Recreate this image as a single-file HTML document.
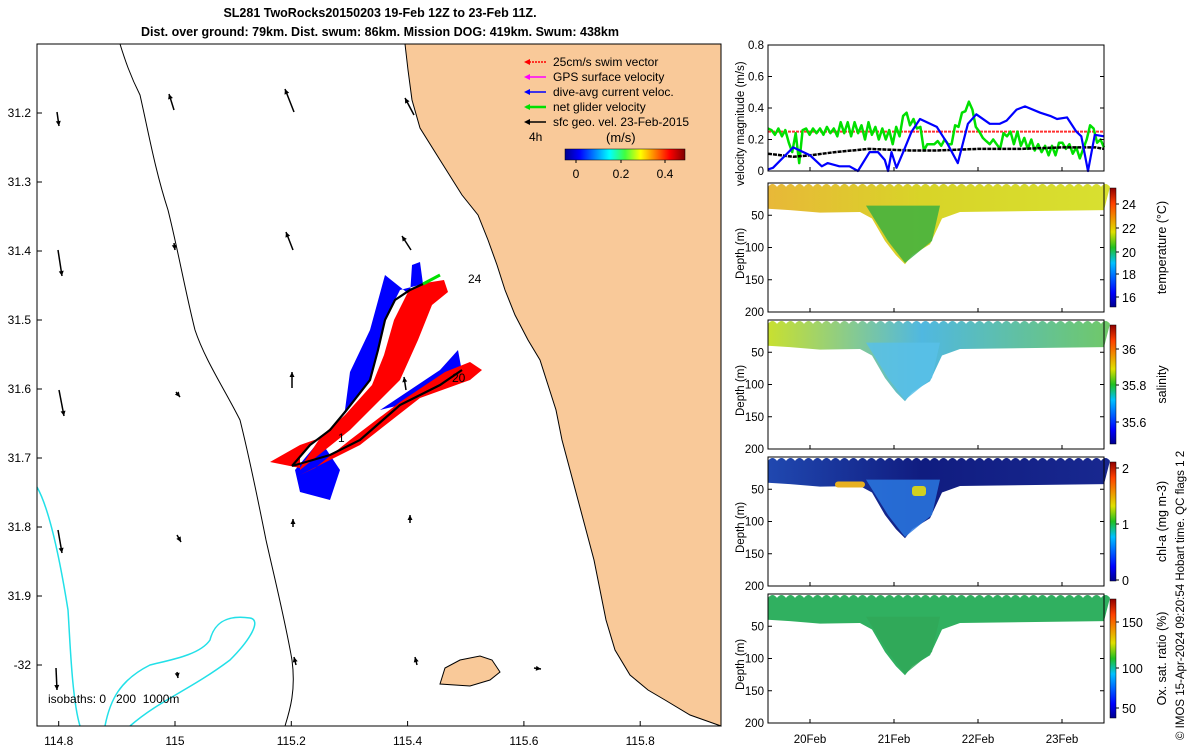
<!DOCTYPE html>
<html><head><meta charset="utf-8"><style>
body{margin:0;background:#fff;}
svg{display:block;font-family:"Liberation Sans","DejaVu Sans",sans-serif;}
</style></head><body>
<svg id="s" width="1200" height="750" viewBox="0 0 1200 750">
<defs>
<linearGradient id="jetH" x1="0" x2="1" y1="0" y2="0">
<stop offset="0" stop-color="#00008f"/><stop offset="0.12" stop-color="#0000ff"/><stop offset="0.37" stop-color="#00ffff"/><stop offset="0.5" stop-color="#40ff40"/><stop offset="0.63" stop-color="#ffff00"/><stop offset="0.87" stop-color="#ff0000"/><stop offset="1" stop-color="#800000"/></linearGradient>
<linearGradient id="jetV" x1="0" x2="0" y1="1" y2="0">
<stop offset="0" stop-color="#00008f"/><stop offset="0.12" stop-color="#0000ff"/><stop offset="0.37" stop-color="#00c0ff"/><stop offset="0.5" stop-color="#20c020"/><stop offset="0.63" stop-color="#e0e000"/><stop offset="0.87" stop-color="#ff4000"/><stop offset="1" stop-color="#900000"/></linearGradient>
</defs>
<text x="380" y="17" text-anchor="middle" font-size="12.5" font-weight="bold">SL281 TwoRocks20150203 19-Feb 12Z to 23-Feb 11Z.</text>
<text x="380" y="36" text-anchor="middle" font-size="12.5" font-weight="bold">Dist. over ground: 79km. Dist. swum: 86km. Mission DOG: 419km. Swum: 438km</text>
<g id="map"></g>
<g id="right"></g>
<text transform="translate(1184,740) rotate(-90)" font-size="11.5">© IMOS 15-Apr-2024 09:20:54 Hobart time. QC flags 1  2</text>
</svg>
<script>
// ---------- data ----------
const mapXTicks=[114.8,115,115.2,115.4,115.6,115.8];
const mapYTicks=[31.2,31.3,31.4,31.5,31.6,31.7,31.8,31.9,32];
const velTicks=[0,0.2,0.4,0.6,0.8];
const dayLabels=["20Feb","21Feb","22Feb","23Feb"];
const dayPos=[0.5,1.5,2.5,3.5]; // days since 19-Feb 12Z
const blueT=[0,0.06,0.30,0.50,0.64,0.71,0.85,0.97,1.07,1.21,1.31,1.39,1.43,1.47,1.53,1.61,1.71,1.81,1.93,2.01,2.13,2.26,2.38,2.48,2.64,2.76,2.84,2.96,3.06,3.24,3.36,3.44,3.56,3.67,3.73,3.81,3.89,4.0];
const blueV=[0.01,0.02,0.15,0.1,0.03,0.05,0.03,0.03,0.0,0.12,0.12,0.07,0.0,0.12,0.02,0.12,0.25,0.33,0.3,0.28,0.18,0.05,0.3,0.36,0.3,0.3,0.32,0.39,0.41,0.37,0.35,0.33,0.34,0.25,0.22,0.0,0.23,0.22];
const greenV=[0.27,0.26,0.23,0.27,0.22,0.26,0.18,0.12,0.24,0.05,0.26,0.27,0.23,0.27,0.24,0.27,0.23,0.28,0.24,0.27,0.22,0.31,0.24,0.31,0.22,0.31,0.24,0.29,0.2,0.31,0.23,0.28,0.2,0.27,0.2,0.26,0.17,0.28,0.22,0.35,0.37,0.29,0.33,0.27,0.28,0.13,0.17,0.17,0.17,0.19,0.16,0.2,0.17,0.17,0.29,0.28,0.37,0.38,0.44,0.39,0.28,0.25,0.21,0.19,0.17,0.2,0.17,0.14,0.24,0.22,0.25,0.17,0.25,0.16,0.21,0.14,0.2,0.13,0.17,0.12,0.16,0.1,0.16,0.1,0.18,0.18,0.14,0.17,0.11,0.15,0.08,0.14,0.2,0.29,0.27,0.18,0.2,0.15];
const blackT=[0,0.3,0.5,0.8,1.2,1.7,2.0,2.5,3.0,3.5,3.9,4.0];
const blackV=[0.11,0.09,0.1,0.12,0.14,0.13,0.13,0.14,0.14,0.15,0.15,0.14];
const swimV=0.25;
const depthTicks=[50,100,150,200];
// ---------- helpers ----------
const NS="http://www.w3.org/2000/svg";
function mk(p,tag,at,txt){const e=document.createElementNS(NS,tag);for(const k in at)e.setAttribute(k,at[k]);if(txt!==undefined)e.textContent=txt;p.appendChild(e);return e;}
const map=document.getElementById('map'),R=document.getElementById('right');
// ---------- map ----------
const MX0=37,MX1=721,MY0=44,MY1=726;
const lonX=v=>175+(v-115)*581.5, latY=v=>113+(v-31.2)*690;
let land=mk(map,'path',{d:"M405,44 L408,70 L412,100 L420,128 L440,160 L462,195 L478,215 L488,240 L497,265 L505,290 L515,315 L528,340 L540,360 L548,385 L556,410 L562,440 L570,470 L578,500 L586,530 L594,560 L600,590 L606,620 L615,650 L630,675 L648,690 L665,700 L690,715 L721,726 L721,44 Z",fill:"#f9c999",stroke:"#000","stroke-width":1});

let isl=mk(map,'path',{d:"M440,684 L445,668 L460,660 L480,656 L492,660 L500,672 L490,680 L470,686 Z",fill:"#f9c999",stroke:"#000"});

let iso=mk(map,'path',{d:"M120,44 C125,60 130,75 140,95 C148,130 155,170 168,210 C178,250 185,290 195,330 C205,360 225,390 240,420 C250,460 258,500 266,540 C275,580 285,620 292,660 C296,690 290,710 285,726",fill:"none",stroke:"#000","stroke-width":1});

let iso2=mk(map,'path',{d:"M37,487 C50,510 60,560 68,610 C70,640 72,700 80,726 M130,726 C160,700 190,690 230,660 C250,640 262,620 250,618 C230,615 215,620 210,640 C200,655 170,660 150,665 C120,680 110,700 105,726",fill:"none",stroke:"#22e0e8","stroke-width":1.5});

// track
let blue=mk(map,'path',{d:"M325,440 L345,410 L350,372 L370,330 L385,275 L410,295 L412,265 L420,262 L423,284 L400,290 L385,320 L378,350 L370,380 L345,412 L330,430 Z M295,470 L300,492 L330,500 L340,470 L320,440 Z M380,410 L440,370 L458,350 L462,372 L400,405 Z",fill:"#0000ff"});

let red=mk(map,'path',{d:"M300,470 L350,430 L400,380 L418,340 L432,305 L448,292 L444,280 L425,283 L408,292 L394,320 L384,355 L372,385 L345,415 L300,455 Z M270,462 L300,445 L320,438 L300,468 Z M300,475 L360,445 L420,398 L470,380 L482,370 L470,362 L445,372 L400,402 L350,440 L315,468 Z",fill:"#ff0000"});

let trk=mk(map,'path',{d:"M292,466 L310,445 L330,430 L345,412 L370,380 L378,350 L385,320 L395,300 L410,290 L423,284 M292,466 L330,455 L360,440 L400,405 L440,385 L462,370",fill:"none",stroke:"#000","stroke-width":2.2});

let gt=mk(map,'path',{d:"M423,284 L440,275",stroke:"#00e000","stroke-width":3});

[["24",468,283],["20",452,382],["1",338,442]].forEach(a=>{let t=mk(map,'text',{x:a[1],y:a[2],"font-size":12},a[0]);});
// geostrophic arrows (tail->head)
const arrows=[[57,112,59,126],[174,110,169,94],[294,112,285,89],[414,115,405,98],[58,250,62,276],[174,243,175,250],[293,250,286,232],[411,250,402,236],[59,390,64,416],[176,392,180,397],[292,388,292,372],[406,390,404,377],[58,530,62,553],[177,535,181,542],[293,527,293,519],[410,523,410,515],[56,668,57,690],[177,672,178,678],[296,665,294,657],[417,665,415,657],[534,668,541,669]];
arrows.forEach(a=>{const g=mk(map,'g',{});
 mk(g,'line',{x1:a[0],y1:a[1],x2:a[2],y2:a[3],stroke:"#000","stroke-width":1.5});
 const dx=a[2]-a[0],dy=a[3]-a[1],L=Math.hypot(dx,dy)||1,ux=dx/L,uy=dy/L,h=5;
 mk(g,'path',{d:`M${a[2]},${a[3]} L${a[2]-h*ux-2.5*uy},${a[3]-h*uy+2.5*ux} L${a[2]-h*ux+2.5*uy},${a[3]-h*uy-2.5*ux}Z`,fill:"#000"});});
// map frame + ticks
let mf=mk(map,'rect',{x:MX0,y:MY0,width:MX1-MX0,height:MY1-MY0,fill:"none",stroke:"#000","stroke-width":1});

mapXTicks.forEach(v=>{const x=lonX(v);mk(map,'line',{x1:x,y1:MY1,x2:x,y2:MY1-5,stroke:"#000"});let t=mk(map,'text',{x:x,y:745,"text-anchor":"middle","font-size":12},String(v));});
mapYTicks.forEach(v=>{const y=latY(v);mk(map,'line',{x1:MX0,y1:y,x2:MX0+5,y2:y,stroke:"#000"});let t=mk(map,'text',{x:31,y:y+4,"text-anchor":"end","font-size":12},v==32?"-32":v.toFixed(1));});
let ib=mk(map,'text',{x:48,y:703,"font-size":12},"isobaths: 0\u00a0\u00a0\u00a0200\u00a0\u00a01000m");
// legend
const leg=[["25cm/s swim vector","#ff0000"],["GPS surface velocity","#ff00ff"],["dive-avg current veloc.","#0000ff"],["net glider velocity","#00e000"],["sfc geo. vel. 23-Feb-2015","#000"]];
leg.forEach((l,i)=>{const y=62+i*15;const g=mk(map,'g',{});
 mk(g,'line',{x1:526,y1:y,x2:546,y2:y,stroke:l[1],"stroke-width":i==3?2.5:1.5,"stroke-dasharray":i==0?"2,1":"none"});
 mk(g,'path',{d:`M524,${y} L530,${y-3} L530,${y+3}Z`,fill:l[1]});
 mk(g,'text',{x:553,y:y+4,"font-size":12},l[0]);});
let t4=mk(map,'text',{x:529,y:141,"font-size":12},"4h");
let ms=mk(map,'text',{x:606,y:142,"font-size":13},"(m/s)");
let cb=mk(map,'rect',{x:565,y:149,width:120,height:11,fill:"url(#jetH)",stroke:"#000","stroke-width":0.5});
[["0",576],["0.2",621],["0.4",665]].forEach(a=>{mk(map,'line',{x1:a[1],y1:160,x2:a[1],y2:163,stroke:"#000"});let t=mk(map,'text',{x:a[1],y:178,"text-anchor":"middle","font-size":12},a[0]);});
// ---------- right panels ----------
const PX0=768,PX1=1104;
const tX=d=>PX0+d*(PX1-PX0)/4;
// velocity panel
const VY0=45,VY1=171,vY=v=>VY1-v*(VY1-VY0)/0.8;
function pl(tArr,vArr,col,w,name,dash){const d=tArr.map((t,i)=>(i?"L":"M")+tX(t).toFixed(1)+","+vY(vArr[i]).toFixed(1)).join(" ");let p=mk(R,'path',{d:d,fill:"none",stroke:col,"stroke-width":w,"stroke-linejoin":"round"});if(dash)p.setAttribute('stroke-dasharray',dash);}
pl([0,4],[swimV,swimV],"#ff3030",2,"swim-speed-line","3,1");
const greenT=greenV.map((v,i)=>i*4/(greenV.length-1));
pl(greenT,greenV,"#00e000",2.5,"net-glider-speed-line");
pl(blackT,blackV,"#000",2.5,"sfc-geo-speed-line","4,1");
pl(blueT,blueV,"#0000ff",2.2,"dive-avg-current-speed-line");
let vf=mk(R,'rect',{x:PX0,y:VY0,width:PX1-PX0,height:VY1-VY0,fill:"none",stroke:"#000"});
velTicks.forEach(v=>{const y=vY(v);mk(R,'line',{x1:PX0,y1:y,x2:PX0+4,y2:y,stroke:"#000"});mk(R,'line',{x1:PX1,y1:y,x2:PX1-4,y2:y,stroke:"#000"});let t=mk(R,'text',{x:764,y:y+4,"text-anchor":"end","font-size":11.5},v==0?"0":v.toFixed(1));});
let vl=mk(R,'text',{transform:"translate(744,186) rotate(-90)","font-size":11.5},"velocity magnitude (m/s)");
// depth sections
const panels=[
 {y0:183,name:"temperature",title:"temperature (°C)",top:"#d8d428",topL:"#e8b838",right:"#d8e030",deep:"#3cb040",ticks:[["24",204],["22",228],["20",252],["18",274],["16",297]]},
 {y0:320,name:"salinity",title:"salinity",top:"#50b8e0",topL:"#c8e030",right:"#70c868",deep:"#58c0e8",ticks:[["36",349],["35.8",385],["35.6",422]]},
 {y0:457,name:"chl-a",title:"chl-a (mg m-3)",top:"#101c80",topL:"#2048b0",right:"#182890",deep:"#2a78e0",ticks:[["2",468],["1",524],["0",580]]},
 {y0:594,name:"oxygen",title:"Ox. sat. ratio (%)",top:"#30b060",topL:"#30b060",right:"#30b060",deep:"#30a858",ticks:[["150",622],["100",668],["50",708]]}];
panels.forEach(p=>{const y0=p.y0,H=129,dY=d=>y0+d*H/200;const g=mk(R,'g',{});
 const id='g'+p.name;const lg=mk(g,'linearGradient',{id:id,x1:0,x2:1,y1:0,y2:0});
 mk(lg,'stop',{offset:0,"stop-color":p.topL});mk(lg,'stop',{offset:0.45,"stop-color":p.top});mk(lg,'stop',{offset:1,"stop-color":p.right});
 let top="";for(let x=PX0;x<PX1;x+=9){top+=`L${x},${dY(6)} Q${x+4.5},${dY(-3)} ${x+9},${dY(6)} `;}
 const d=`M${PX0},${dY(40)} `+top+`L${PX1},${dY(42)} L960,${dY(45)} L942,${dY(55)} L930,${dY(95)} L912,${dY(112)} L905,${dY(126)} L896,${dY(112)} L885,${dY(90)} L872,${dY(55)} L860,${dY(45)} L820,${dY(46)} L790,${dY(42)} Z`;
 mk(g,'path',{d:d,fill:`url(#${id})`});
 mk(g,'path',{d:`M866,${dY(35)} L940,${dY(35)} L932,${dY(90)} L905,${dY(124)} L888,${dY(90)} Z`,fill:p.deep,opacity:0.85});
 if(p.name=="chl-a"){mk(g,'rect',{x:835,y:dY(38),width:30,height:6,rx:3,fill:"#e8b020"});mk(g,'rect',{x:912,y:dY(45),width:14,height:10,rx:3,fill:"#d0d020"});}
 mk(g,'rect',{x:PX0,y:y0,width:PX1-PX0,height:H,fill:"none",stroke:"#000"});
 depthTicks.forEach(v=>{const y=dY(v);mk(g,'line',{x1:PX0,y1:y,x2:PX0+4,y2:y,stroke:"#000"});mk(g,'line',{x1:PX1,y1:y,x2:PX1-4,y2:y,stroke:"#000"});let t=mk(g,'text',{x:764,y:y+4,"text-anchor":"end","font-size":11.5},String(v));});
 let dl=mk(g,'text',{transform:`translate(744,${y0+96}) rotate(-90)`,"font-size":11.5},"Depth (m)");
 let c=mk(g,'rect',{x:1110,y:y0+5,width:6,height:H-10,fill:"url(#jetV)",stroke:"#000","stroke-width":0.5});
 p.ticks.forEach(a=>{mk(g,'line',{x1:1116,y1:a[1],x2:1119,y2:a[1],stroke:"#000"});let t=mk(g,'text',{x:1122,y:a[1]+5,"font-size":12.5},a[0]);});
 let ct=mk(g,'text',{transform:`translate(1166,${y0+H/2}) rotate(-90)`,"text-anchor":"middle","font-size":12.5},p.title);
});
dayPos.forEach((d,i)=>{const x=tX(d);[45,183,320,457,594].forEach((y,j)=>{const yb=j==0?171:y+129;mk(R,'line',{x1:x,y1:yb,x2:x,y2:yb-4,stroke:"#000"});});let t=mk(R,'text',{x:x,y:743,"text-anchor":"middle","font-size":11.5},dayLabels[i]);});
</script>
</body></html>
